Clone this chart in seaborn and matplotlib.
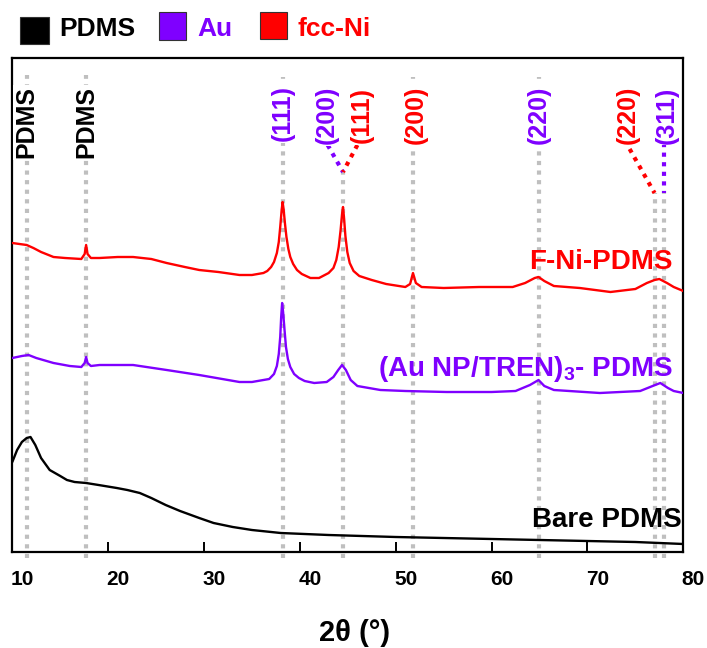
import matplotlib
matplotlib.use("Agg")
import matplotlib.pyplot as plt
import matplotlib.transforms as mtransforms
from matplotlib.patches import Rectangle
import pandas as pd
import seaborn as sns

# ---------------- data ----------------
bare_x = [10.0, 10.5, 11.0, 11.5, 11.9, 12.4, 13.0, 13.9, 15.0, 15.7, 16.5, 17.7,
          19.0, 20.9, 22.0, 23.3, 24.5, 26.0, 27.5, 29.5, 31.0, 33.0, 35.0, 38.0,
          43.0, 50.0, 55.0, 60.0, 65.0, 70.0, 75.0, 80.0]
bare_y = [90, 102, 110, 114, 115, 107, 94, 82, 76, 72, 70, 69,
          67, 64, 62, 59, 54, 47, 41, 34, 29, 25, 22, 19,
          17, 15, 14, 13, 12, 11, 10, 8]

au_x = [10.0, 11.0, 11.7, 12.5, 14.3, 16.0, 17.2, 17.55, 17.7, 17.85, 18.2, 19.1,
        22.6, 26.1, 29.5, 33.7, 35.0, 36.8, 37.3, 37.6, 37.8, 37.95, 38.05, 38.15,
        38.25, 38.4, 38.55, 38.75, 39.0, 39.4, 39.9, 40.5, 41.5, 42.8, 43.5, 44.0,
        44.4, 44.8, 45.3, 46.0, 48.4, 51.0, 55.3, 60.0, 62.5, 64.0, 64.9, 65.5,
        66.5, 71.3, 75.5, 76.8, 77.6, 78.4, 79.0, 80.0]
au_y = [194, 196, 197, 194, 189, 186, 185, 189, 195, 189, 186, 187,
        187, 182, 177, 170, 170, 173, 178, 186, 198, 215, 235, 249,
        240, 222, 205, 193, 185, 178, 174, 171, 169, 170, 175, 182,
        187, 182, 172, 166, 162, 161, 160, 160, 161, 167, 172, 166,
        162, 159, 161, 166, 169, 164, 161, 159]

ni_x = [10.0, 11.5, 12.2, 13.0, 14.3, 15.5, 17.2, 17.55, 17.7, 17.85, 18.2, 19.1,
        21.0, 22.6, 24.5, 26.1, 28.0, 29.5, 31.5, 33.7, 35.0, 36.2, 36.6, 37.0,
        37.3, 37.6, 37.8, 37.95, 38.1, 38.2, 38.3, 38.45, 38.6, 38.8, 39.0, 39.3,
        39.7, 40.2, 41.1, 42.0, 43.0, 43.5, 43.8, 44.05, 44.25, 44.4, 44.5, 44.6,
        44.75, 44.95, 45.2, 45.6, 46.2, 47.5, 49.0, 51.0, 51.5, 51.8, 52.1, 52.7,
        55.0, 58.7, 62.2, 63.5, 64.5, 64.9, 65.5, 66.5, 69.2, 72.4, 75.0, 76.2,
        77.0, 77.5, 78.3, 79.0, 80.0]
ni_y = [309, 307, 304, 300, 295, 294, 293, 298, 307, 298, 294, 294,
        295, 295, 293, 289, 285, 282, 280, 277, 277, 279, 281, 285,
        290, 299, 310, 325, 342, 350, 343, 328, 315, 303, 295, 288,
        282, 278, 274, 274, 279, 284, 292, 305, 322, 338, 345, 335,
        316, 300, 289, 281, 276, 272, 268, 265, 268, 279, 269, 265,
        264, 265, 265, 269, 274, 275, 271, 266, 264, 260, 263, 269,
        272, 273, 269, 265, 261]

sample_names = ["Bare PDMS", "(Au NP/TREN)$_3$- PDMS", "F-Ni-PDMS"]
sample_colors = ["#000000", "#7F00FF", "#FF0000"]

legend_labels = ["PDMS", "Au", "fcc-Ni"]
legend_colors = ["#000000", "#7F00FF", "#FF0000"]

ref_positions = [11.5, 17.7, 38.2, 44.5, 51.8, 64.9, 77.0, 78.0]
peak_labels = ["PDMS", "PDMS", "(111)", "(200)", "(111)", "(200)", "(220)", "(220)", "(311)"]
peak_label_colors = ["#000000", "#000000", "#7F00FF", "#7F00FF", "#FF0000",
                     "#FF0000", "#7F00FF", "#FF0000", "#7F00FF"]

x_ticks = [10, 20, 30, 40, 50, 60, 70, 80]

# ---------------- figure ----------------
sns.set_style("white")
plt.rcParams["font.family"] = ["Liberation Sans", "DejaVu Sans"]
plt.rcParams["font.weight"] = "bold"
plt.rcParams["mathtext.default"] = "regular"

W, H = 707, 648
fig = plt.figure(figsize=(W / 100, H / 100), dpi=100)
L, R, T, B = 12.3, 683.3, 57.5, 552.0
ax = fig.add_axes([L / W, 1 - B / H, (R - L) / W, (B - T) / H])

df = pd.concat([
    pd.DataFrame({"x": bare_x, "y": bare_y, "s": sample_names[0]}),
    pd.DataFrame({"x": au_x, "y": au_y, "s": sample_names[1]}),
    pd.DataFrame({"x": ni_x, "y": ni_y, "s": sample_names[2]}),
])
sns.lineplot(data=df, x="x", y="y", hue="s", palette=dict(zip(sample_names, sample_colors)),
             estimator=None, legend=False, linewidth=1.7, ax=ax, zorder=3)

ax.set_xlim(10, 80)
ax.set_ylim(0, B - T)

# vertical reference lines (gray dotted)
gray = "#BFBFBF"
dot = (0, (1, 1.3))
ref_tops = [477, 477, 475, 380, 475, 475, 359, 359]
for xp, top in zip(ref_positions, ref_tops):
    ax.vlines(xp, -6, top, colors=gray, linewidth=3, linestyles=[dot], zorder=1, clip_on=False)

# connectors for overlapping peaks
pur, red = "#7F00FF", "#FF0000"
ax.plot([42.9, ref_positions[3]], [407, 380], color=pur, lw=3, ls=dot, zorder=2)
ax.plot([46.0, ref_positions[3]], [407, 380], color=red, lw=3, ls=dot, zorder=2)
ax.plot([74.4, ref_positions[6]], [403, 359], color=red, lw=3, ls=dot, zorder=2)
ax.plot([ref_positions[7], ref_positions[7]], [409, 359], color=pur, lw=3, ls=dot, zorder=2)

# peak labels (rotated)
label_x = [ref_positions[0], ref_positions[1], ref_positions[2], 42.8, 46.5, 52.1,
           ref_positions[5], 74.2, 78.3]
label_h = [430, 430, 439, 437, 437, 437, 437, 437, 437]
label_fs = [18, 18, 18, 18, 18, 18, 18, 18, 18]
for s, c, xx, hh, fs in zip(peak_labels, peak_label_colors, label_x, label_h, label_fs):
    ax.text(xx, hh, s, rotation=90, ha="center", va="center", color=c, fontsize=fs,
            fontweight="bold", zorder=4,
            bbox=dict(facecolor="white", edgecolor="none", pad=1.0))

# curve labels
ax.text(78.9, 283, sample_names[2], color=sample_colors[2], ha="right", va="baseline",
        fontsize=20, fontweight="bold", zorder=5)
ax.text(78.9, 176, sample_names[1], color=sample_colors[1], ha="right", va="baseline",
        fontsize=20, fontweight="bold", zorder=5)
ax.text(79.85, 25, sample_names[0], color=sample_colors[0], ha="right", va="baseline",
        fontsize=20, fontweight="bold", zorder=5)

# axes styling
for sp in ax.spines.values():
    sp.set_visible(True)
    sp.set_linewidth(1.6)
    sp.set_color("#000000")
ax.set_yticks([])
ax.set_xticks(x_ticks)
ax.set_xticklabels([str(t) for t in x_ticks])
ax.tick_params(axis="x", direction="in", length=7, width=1.4, color="#000000",
               labelsize=15, labelcolor="#000000", pad=13, bottom=True)
offset = mtransforms.ScaledTranslation(10 / 100, 0, fig.dpi_scale_trans)
for lab in ax.get_xticklabels():
    lab.set_fontweight("bold")
    lab.set_transform(lab.get_transform() + offset)

ax.set_xlabel("2θ (°)", fontsize=21, fontweight="bold", color="#000000")
ax.xaxis.label.set_va("center")
ax.xaxis.set_label_coords((355 - L) / (R - L), (B - 633) / (B - T))
ax.set_ylabel("")

# legend (top)
leg_boxes = [(20, 17, 29, 27), (159, 12, 27, 28), (260, 12, 27, 27)]
leg_text_x = [59, 197, 297]
for (bx, by, bw, bh), c, s, tx in zip(leg_boxes, legend_colors, legend_labels, leg_text_x):
    fig.patches.append(Rectangle((bx / W, 1 - (by + bh) / H), bw / W, bh / H,
                                 transform=fig.transFigure, facecolor=c,
                                 edgecolor="#333333", linewidth=0.8))
    fig.text(tx / W, 1 - 36 / H, s, color=c, fontsize=19, fontweight="bold",
             ha="left", va="baseline")

fig.savefig("out.png", dpi=100)
